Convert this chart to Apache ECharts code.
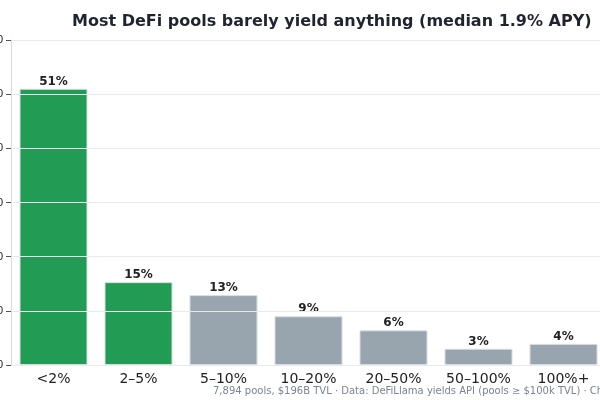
<!DOCTYPE html>
<html>
<head>
<meta charset="utf-8">
<script src="https://cdn.jsdelivr.net/npm/echarts@6/dist/echarts.min.js"></script>
<style>html,body{margin:0;padding:0;}#chart{width:600px;height:400px;}</style>
</head>
<body>
<div id="chart"></div>
<script>
const categories = ["<2%", "2–5%", "5–10%", "10–20%", "20–50%", "50–100%", "100%+"];
const shares = [51, 15.3, 12.9, 9, 6.4, 3, 3.9];
const labels = ["51%", "15%", "13%", "9%", "6%", "3%", "4%"];
const barColors = ["#229c54", "#229c54", "#98a5ae", "#98a5ae", "#98a5ae", "#98a5ae", "#98a5ae"];

const chart = echarts.init(document.getElementById("chart"));
chart.setOption({
    animation: false,
    title: {
        text: "Most DeFi pools barely yield anything (median 1.9% APY)",
        left: 67, top: 9,
        textStyle: { fontFamily: "DejaVu Sans", fontSize: 16, fontWeight: "bold", color: "#1f2430" }
    },
    graphic: [{
        type: "text", left: 213, top: 386,
        style: {
            text: "7,894 pools, $196B TVL · Data: DeFiLlama yields API (pools ≥ $100k TVL) · Chart: Data Explorer",
            fontFamily: "DejaVu Sans", fontSize: 10, fill: "#7b8491"
        }
    }],
    grid: { left: 11, width: 595, top: 40, height: 325, containLabel: false, outerBoundsMode: "none" },
    xAxis: {
        type: "category", data: categories,
        axisLine: { lineStyle: { color: "#d5dae0" } },
        axisTick: { alignWithLabel: true, lineStyle: { color: "#555" } },
        axisLabel: { fontFamily: "DejaVu Sans", fontSize: 14, color: "#222", margin: 7 }
    },
    yAxis: {
        type: "value", min: 0, max: 60, interval: 10, z: 5,
        axisLine: { show: true, lineStyle: { color: "#d5dae0" } },
        axisTick: { show: true, length: 5, lineStyle: { color: "#555" } },
        axisLabel: { color: "#222", fontSize: 11 },
        splitLine: { lineStyle: { color: "#e6eaee", width: 1 } }
    },
    series: [{
        type: "bar", z: 2, barWidth: "80%",
        data: shares.map((v, i) => ({
            value: v,
            itemStyle: { color: barColors[i], borderColor: "#d8dde2", borderWidth: 1 }
        })),
        label: {
            show: true, position: "top", distance: 1,
            formatter: p => labels[p.dataIndex],
            fontFamily: "DejaVu Sans", fontSize: 12, fontWeight: "bold", color: "#222"
        }
    }]
});
</script>
</body>
</html>
